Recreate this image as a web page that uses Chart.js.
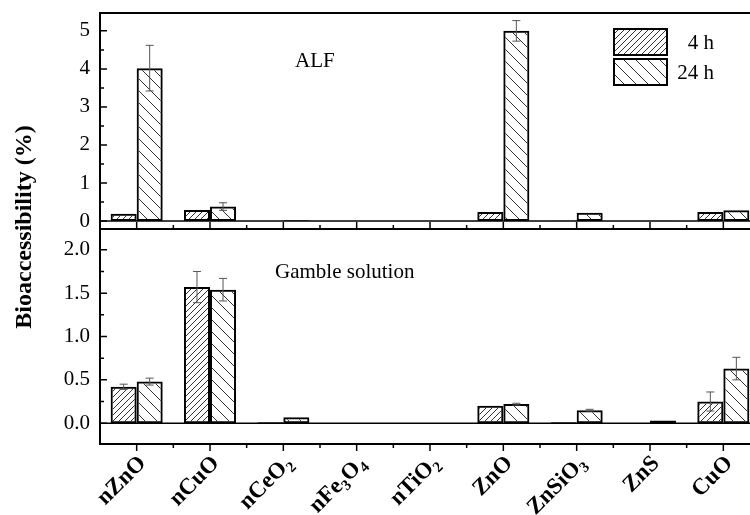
<!DOCTYPE html>
<html lang="en">
<head>
<meta charset="UTF-8">
<title>Bioaccessibility ALF / Gamble</title>
<script src="https://cdn.jsdelivr.net/npm/chart.js"></script>
<style>
  body { margin: 0; background: #fff; width: 750px; height: 515px; overflow: hidden; position: relative; }
  #cTop { position: absolute; left: 0; top: 0; }
  #cBot { position: absolute; left: 0; top: 228px; }
  #ytitle {
    position: absolute; left: -125px; top: 212px; width: 300px; height: 30px; line-height: 30px;
    text-align: center; transform: rotate(-90deg);
    font: bold 24px "Liberation Serif", "Times New Roman", serif; color: #000;
  }
</style>
</head>
<body>
<canvas id="cTop" width="760" height="231"></canvas>
<canvas id="cBot" width="760" height="287"></canvas>
<div id="ytitle">Bioaccessibility (%)</div>

<script>
// categories (digits are drawn as subscripts)
const categories = ['nZnO', 'nCuO', 'nCeO2', 'nFe3O4', 'nTiO2', 'ZnO', 'ZnSiO3', 'ZnS', 'CuO'];

// ALF (top panel)
const alf4h     = [0.19, 0.29, 0.00, 0, 0, 0.24, 0.01, 0.00, 0.24];
const alf24h    = [4.02, 0.38, 0.02, 0, 0, 5.00, 0.22, 0.01, 0.28];
const alf4hErr  = [0, 0, 0, 0, 0, 0, 0, 0, 0];
const alf24hErr = [0.60, 0.10, 0, 0, 0, 0.27, 0, 0, 0];

// Gamble solution (bottom panel)
const gam4h     = [0.42, 1.57, 0.01, 0, 0, 0.20, 0.01, 0.00, 0.25];
const gam24h    = [0.48, 1.54, 0.07, 0, 0, 0.22, 0.15, 0.03, 0.63];
const gam4hErr  = [0.03, 0.18, 0, 0, 0, 0, 0, 0, 0.11];
const gam24hErr = [0.04, 0.13, 0, 0, 0, 0.01, 0.01, 0, 0.13];

const alfTicks = [0, 1, 2, 3, 4, 5];
const alfMinor = [0.5, 1.5, 2.5, 3.5, 4.5];
const gamTicks = [0, 0.5, 1.0, 1.5, 2.0];
const gamMinor = [0.25, 0.75, 1.25, 1.75];

const serif = '"Liberation Serif", "Times New Roman", serif';

function hatch(spacing, forward) {
  const c = document.createElement('canvas');
  c.width = spacing; c.height = spacing;
  const g = c.getContext('2d');
  g.strokeStyle = '#333';
  g.lineWidth = 1;
  g.beginPath();
  for (let k = -1; k <= 1; k++) {
    if (forward) { g.moveTo(k * spacing, spacing); g.lineTo(k * spacing + spacing, 0); }
    else { g.moveTo(k * spacing, 0); g.lineTo(k * spacing + spacing, spacing); }
  }
  g.stroke();
  return g.createPattern(c, 'repeat');
}
const pat4 = hatch(6, true);
const pat24 = hatch(12, false);

// error bars
const errorBars = {
  id: 'errorBars',
  afterDatasetsDraw(chart) {
    const ctx = chart.ctx;
    const y = chart.scales.y;
    ctx.save();
    ctx.strokeStyle = '#555';
    ctx.lineWidth = 1;
    chart.data.datasets.forEach((ds, i) => {
      chart.getDatasetMeta(i).data.forEach((bar, j) => {
        const e = ds.err[j];
        if (!e) return;
        const v = ds.data[j];
        const y1 = y.getPixelForValue(v + e), y2 = y.getPixelForValue(v - e);
        ctx.beginPath();
        ctx.moveTo(bar.x, y1); ctx.lineTo(bar.x, y2);
        ctx.moveTo(bar.x - 4, y1); ctx.lineTo(bar.x + 4, y1);
        ctx.moveTo(bar.x - 4, y2); ctx.lineTo(bar.x + 4, y2);
        ctx.stroke();
      });
    });
    ctx.restore();
  }
};

// frame, zero line, inward/outward ticks, labels
const frame = {
  id: 'frame',
  afterDraw(chart, args, o) {
    const ctx = chart.ctx, a = chart.chartArea;
    const x = chart.scales.x, y = chart.scales.y;
    ctx.save();
    ctx.strokeStyle = '#000';
    ctx.lineWidth = 2;
    ctx.strokeRect(a.left, a.top, a.right - a.left, a.bottom - a.top);
    // zero line
    ctx.lineWidth = 1.5;
    const y0 = y.getPixelForValue(0);
    ctx.beginPath(); ctx.moveTo(a.left, y0); ctx.lineTo(a.right, y0); ctx.stroke();
    // y ticks (inward)
    ctx.lineWidth = 1.5;
    ctx.beginPath();
    o.major.forEach(v => { const p = y.getPixelForValue(v); ctx.moveTo(a.left, p); ctx.lineTo(a.left + 7, p); });
    o.minor.forEach(v => { const p = y.getPixelForValue(v); ctx.moveTo(a.left, p); ctx.lineTo(a.left + 4, p); });
    // x ticks
    const dir = o.xInward ? -1 : 1;
    for (let i = 0; i < categories.length; i++) {
      const p = x.getPixelForValue(i);
      ctx.moveTo(p, a.bottom); ctx.lineTo(p, a.bottom + dir * 7);
      const m = p + (x.getPixelForValue(1) - x.getPixelForValue(0)) / 2;
      ctx.moveTo(m, a.bottom); ctx.lineTo(m, a.bottom + dir * 4);
    }
    ctx.stroke();
    // panel label
    ctx.fillStyle = '#000';
    ctx.font = '21px ' + serif;
    ctx.textAlign = 'left';
    ctx.textBaseline = 'middle';
    ctx.fillText(o.label, o.labelX, o.labelY);
    // legend
    if (o.legend) {
      [[pat4, '4 h', 29], [pat24, '24 h', 59]].forEach(([p, t, top]) => {
        ctx.fillStyle = p;
        ctx.fillRect(614, top, 53, 26);
        ctx.lineWidth = 2;
        ctx.strokeRect(614, top, 53, 26);
        ctx.fillStyle = '#000';
        ctx.textAlign = 'right';
        ctx.fillText(t, 714, top + 14);
      });
    }
    // category labels, rotated, with subscripts
    if (o.xLabels) {
      categories.forEach((c, i) => {
        const segs = c.match(/[A-Za-z]+|\d+/g).map(s => ({ s, sub: /\d/.test(s) }));
        ctx.save();
        ctx.translate(x.getPixelForValue(i) + 6, a.bottom + 16);
        ctx.rotate(-Math.PI / 4);
        ctx.textAlign = 'left';
        ctx.textBaseline = 'middle';
        let w = 0;
        segs.forEach(g => { ctx.font = (g.sub ? 'bold 15px ' : 'bold 23px ') + serif; g.w = ctx.measureText(g.s).width; w += g.w; });
        let cx = -w;
        segs.forEach(g => {
          ctx.font = (g.sub ? 'bold 15px ' : 'bold 23px ') + serif;
          ctx.fillText(g.s, cx, g.sub ? 7 : 0);
          cx += g.w;
        });
        ctx.restore();
      });
    }
    ctx.restore();
  }
};

function panel(id, d4, e4, d24, e24, yMin, yMax, ticks, minor, fmt, pad, frameOpts) {
  return new Chart(document.getElementById(id), {
    type: 'bar',
    data: {
      labels: categories,
      datasets: [
        { label: '4 h', data: d4, err: e4, backgroundColor: pat4, borderColor: '#000', borderWidth: 2, borderSkipped: false },
        { label: '24 h', data: d24, err: e24, backgroundColor: pat24, borderColor: '#000', borderWidth: 2, borderSkipped: false }
      ]
    },
    options: {
      responsive: false,
      animation: false,
      layout: { padding: pad },
      categoryPercentage: 0.71,
      barPercentage: 1.0,
      plugins: { legend: { display: false }, tooltip: { enabled: false }, frame: frameOpts },
      scales: {
        x: { display: false },
        y: {
          min: yMin, max: yMax,
          grid: { display: false, drawTicks: false },
          border: { display: false },
          afterBuildTicks: s => { s.ticks = ticks.map(v => ({ value: v })); },
          afterFit: s => { s.width = 100; s.paddingTop = 0; s.paddingBottom = 0; },
          ticks: { padding: 10, color: '#000', font: { family: serif, size: 21 }, callback: fmt }
        }
      }
    },
    plugins: [errorBars, frame]
  });
}

panel('cTop', alf4h, alf4hErr, alf24h, alf24hErr, -0.21, 5.47, alfTicks, alfMinor,
  v => String(v), { top: 13, bottom: 2, left: 0, right: 0 },
  { major: alfTicks, minor: alfMinor, xInward: true, label: 'ALF', labelX: 295, labelY: 61, legend: true, xLabels: false });

panel('cBot', gam4h, gam4hErr, gam24h, gam24hErr, -0.24, 2.24, gamTicks, gamMinor,
  v => v.toFixed(1), { top: 1, bottom: 71, left: 0, right: 0 },
  { major: gamTicks, minor: gamMinor, xInward: false, label: 'Gamble solution', labelX: 275, labelY: 44, legend: false, xLabels: true });
</script>
</body>
</html>
